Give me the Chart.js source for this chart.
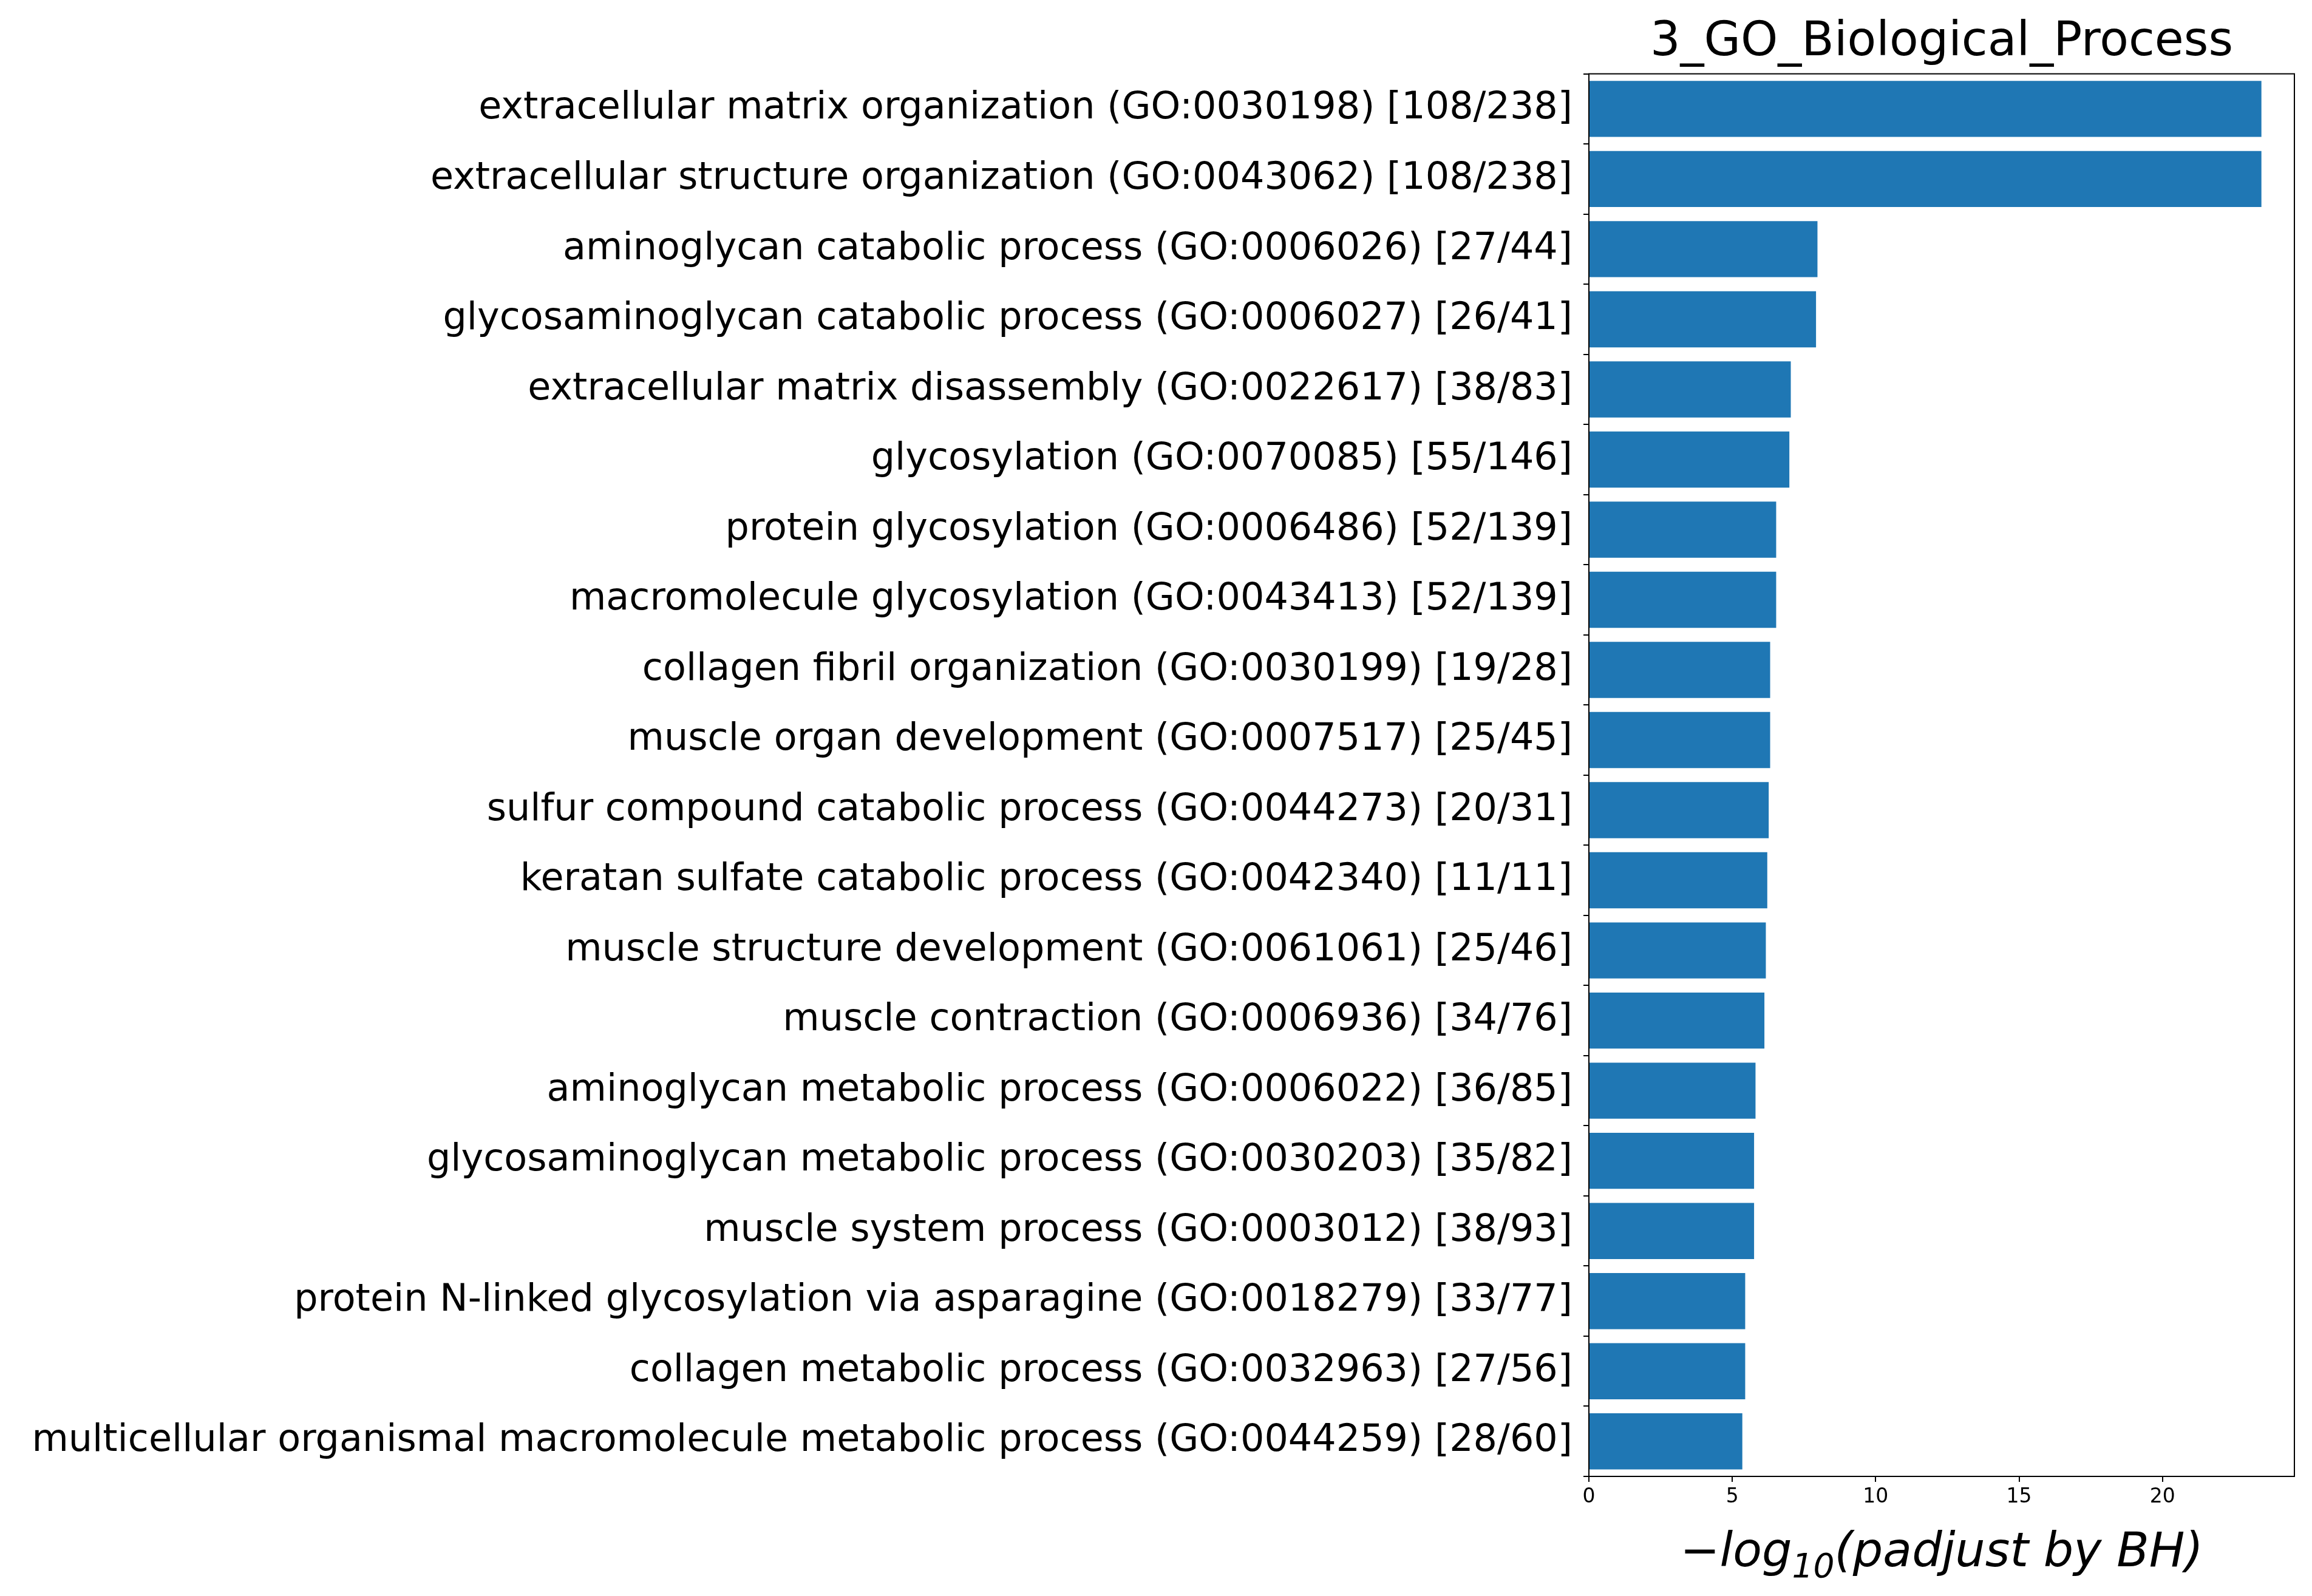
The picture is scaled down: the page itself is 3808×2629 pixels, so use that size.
<!DOCTYPE html>
<html>
<head>
<meta charset="utf-8">
<script src="https://cdn.jsdelivr.net/npm/chart.js@4/dist/chart.umd.min.js"></script>
<style>
  html, body { margin: 0; padding: 0; background: #fff; }
  #wrap { width: 3808px; height: 2629px; }
</style>
</head>
<body>
<div id="wrap"><canvas id="goChart"></canvas></div>
<script>
const chartTitle = '3_GO_Biological_Process';

const terms = [
    'extracellular matrix organization (GO:0030198) [108/238]',
    'extracellular structure organization (GO:0043062) [108/238]',
    'aminoglycan catabolic process (GO:0006026) [27/44]',
    'glycosaminoglycan catabolic process (GO:0006027) [26/41]',
    'extracellular matrix disassembly (GO:0022617) [38/83]',
    'glycosylation (GO:0070085) [55/146]',
    'protein glycosylation (GO:0006486) [52/139]',
    'macromolecule glycosylation (GO:0043413) [52/139]',
    'collagen fibril organization (GO:0030199) [19/28]',
    'muscle organ development (GO:0007517) [25/45]',
    'sulfur compound catabolic process (GO:0044273) [20/31]',
    'keratan sulfate catabolic process (GO:0042340) [11/11]',
    'muscle structure development (GO:0061061) [25/46]',
    'muscle contraction (GO:0006936) [34/76]',
    'aminoglycan metabolic process (GO:0006022) [36/85]',
    'glycosaminoglycan metabolic process (GO:0030203) [35/82]',
    'muscle system process (GO:0003012) [38/93]',
    'protein N-linked glycosylation via asparagine (GO:0018279) [33/77]',
    'collagen metabolic process (GO:0032963) [27/56]',
    'multicellular organismal macromolecule metabolic process (GO:0044259) [28/60]'
];

const negLogPadj = [23.45, 23.45, 7.97, 7.92, 7.04, 6.99, 6.53, 6.53, 6.32, 6.32,
                    6.27, 6.22, 6.17, 6.12, 5.81, 5.76, 5.76, 5.45, 5.45, 5.35];

const xTicks = [0, 5, 10, 15, 20];
const xMax = 24.6;

const FONT = "'DejaVu Sans', sans-serif";

// left/right/top/bottom spines like matplotlib
const boxPlugin = {
    id: 'box',
    afterDraw(chart) {
        const a = chart.chartArea, ctx = chart.ctx;
        ctx.save();
        ctx.strokeStyle = '#000';
        ctx.lineWidth = 2;
        ctx.strokeRect(a.left, a.top, a.right - a.left, a.bottom - a.top);
        ctx.restore();
    }
};

// x axis label with subscript
const xLabelPlugin = {
    id: 'xlabel',
    afterDraw(chart) {
        const a = chart.chartArea, ctx = chart.ctx;
        const cx = (a.left + a.right) / 2, y = 2580;
        const big = "italic 78px " + FONT, small = "italic 55px " + FONT;
        const p1 = '\u2212log', p2 = '10', p3 = '(padjust by BH)';
        ctx.save();
        ctx.fillStyle = '#000';
        ctx.textBaseline = 'alphabetic';
        ctx.font = big; const w1 = ctx.measureText(p1).width, w3 = ctx.measureText(p3).width;
        ctx.font = small; const w2 = ctx.measureText(p2).width;
        let x = cx - (w1 + w2 + w3) / 2;
        ctx.font = big; ctx.fillText(p1, x, y); x += w1;
        ctx.font = small; ctx.fillText(p2, x, y + 18); x += w2;
        ctx.font = big; ctx.fillText(p3, x, y);
        ctx.restore();
    }
};

new Chart(document.getElementById('goChart'), {
    type: 'bar',
    data: {
        labels: terms,
        datasets: [{
            data: negLogPadj,
            backgroundColor: '#1f77b4',
            barPercentage: 0.8,
            categoryPercentage: 1.0
        }]
    },
    options: {
        indexAxis: 'y',
        responsive: true,
        maintainAspectRatio: false,
        animation: false,
        layout: { padding: { left: 20, right: 29, top: 0, bottom: 0 } },
        plugins: {
            legend: { display: false },
            tooltip: { enabled: false },
            title: {
                display: true,
                text: chartTitle,
                fullSize: false,
                color: '#000',
                font: { family: FONT, size: 78, weight: 'normal' },
                padding: { top: 24, bottom: 4 }
            }
        },
        scales: {
            x: {
                min: 0,
                max: xMax,
                afterBuildTicks: (scale) => { scale.ticks = xTicks.map(v => ({ value: v })); },
                afterFit: (scale) => { scale.height = 2629 - 2432; },
                grid: { display: true, drawOnChartArea: false, drawTicks: true, tickLength: 9, color: '#000', lineWidth: 2 },
                border: { display: false },
                ticks: { color: '#000', font: { family: FONT, size: 33 }, padding: 6, maxRotation: 0 }
            },
            y: {
                afterFit: (scale) => { scale.width = 2617 - 20; },
                grid: { display: true, drawOnChartArea: false, drawTicks: true, tickLength: 9, color: '#000', lineWidth: 2 },
                border: { display: false },
                ticks: { color: '#000', font: { family: FONT, size: 62 }, padding: 18, autoSkip: false }
            }
        }
    },
    plugins: [boxPlugin, xLabelPlugin]
});
</script>
</body>
</html>
